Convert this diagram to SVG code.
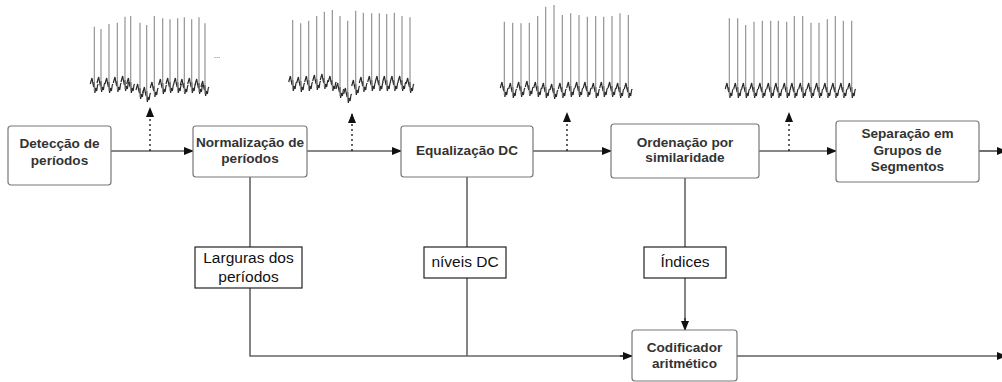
<svg xmlns="http://www.w3.org/2000/svg" xmlns:xlink="http://www.w3.org/1999/xlink" width="1002" height="382" viewBox="0 0 1002 382">
<style>
.box{fill:#fff;stroke:#777;stroke-width:1.2}
.lbl{fill:#fff;stroke:#222;stroke-width:1.2}
.bt{font-family:"Liberation Sans",Arial,sans-serif;font-weight:bold;font-size:13.6px;fill:#333;text-anchor:middle}
.lt{font-family:"Liberation Sans",Arial,sans-serif;font-size:15.5px;fill:#111;text-anchor:middle}
.arr{stroke:#111;stroke-width:1.2;fill:none;marker-end:url(#ah)}
.dot{stroke:#111;stroke-width:1.3;fill:none;stroke-dasharray:2 3;marker-end:url(#ah)}
.gl{stroke:#666;stroke-width:1.6;fill:none}
.beat{stroke:#2a2a2a;stroke-width:1.2;fill:none}
.spk{stroke:#8a8a8a;stroke-width:1.1;fill:none}
</style>
<defs>
<marker id="ah" markerUnits="userSpaceOnUse" markerWidth="10" markerHeight="8" refX="9" refY="4" orient="auto">
<path d="M0,0 L10,4 L0,8 z" fill="#111"/>
</marker>
<path id="b" class="beat" d="M-4,0 L-3.2,-3 L-2.3,-6 L-1.5,-1 L-0.6,3 L0,-2 L0.6,9 L1.4,4 L2.4,7 L3.3,1 L4,0"/>
</defs>

<g id="signal1">
<use href="#b" x="94.3" y="84"/><use href="#b" x="101" y="83"/><use href="#b" x="109" y="84"/><use href="#b" x="117.3" y="83"/><use href="#b" x="125" y="82"/><use href="#b" x="130.7" y="84"/><use href="#b" x="140" y="90"/><use href="#b" x="146.7" y="93"/><use href="#b" x="154.3" y="88"/><use href="#b" x="162.7" y="85"/><use href="#b" x="170" y="84"/><use href="#b" x="177.7" y="84"/><use href="#b" x="184.3" y="85"/><use href="#b" x="191.7" y="84"/><use href="#b" x="199" y="85"/><use href="#b" x="205" y="87"/>
<path class="spk" d="M94.3,91V26.7M101,90V29M109,91V24M117.3,90V22.7M125,89V16.7M130.7,91V16M140,97V22.7M146.7,100V25M154.3,95V16M162.7,92V18.3M170,91V19.3M177.7,91V18.3M184.3,92V17.3M191.7,91V19.3M199,92V17.3M205,94V23.3"/>
<text x="217" y="58" font-family="Liberation Sans, Arial, sans-serif" font-size="8" fill="#333" text-anchor="middle">...</text>
</g>

<g id="signal2">
<use href="#b" x="292.7" y="82"/><use href="#b" x="300.7" y="83"/><use href="#b" x="308.7" y="82"/><use href="#b" x="316.7" y="81"/><use href="#b" x="324.3" y="80"/><use href="#b" x="332.3" y="82"/><use href="#b" x="340" y="89"/><use href="#b" x="347.7" y="94"/><use href="#b" x="355.7" y="86"/><use href="#b" x="363.3" y="83"/><use href="#b" x="371.7" y="82"/><use href="#b" x="379.3" y="82"/><use href="#b" x="386.7" y="82"/><use href="#b" x="394.3" y="82"/><use href="#b" x="402" y="82"/><use href="#b" x="410" y="84"/>
<path class="spk" d="M292.7,89V20M300.7,90V23.3M308.7,89V20.7M316.7,88V16M324.3,87V11.7M332.3,89V10M340,96V16M347.7,101V20.7M355.7,93V10.7M363.3,90V12.7M371.7,89V13.3M379.3,89V13.3M386.7,89V14M394.3,89V12.7M402,89V16M410,91V17.3"/>
</g>

<g id="signal3">
<use href="#b" x="504.3" y="88"/><use href="#b" x="512.7" y="89"/><use href="#b" x="521" y="88"/><use href="#b" x="529.3" y="87"/><use href="#b" x="537.7" y="88"/><use href="#b" x="545.7" y="89"/><use href="#b" x="554" y="90"/><use href="#b" x="562.3" y="89"/><use href="#b" x="570.7" y="88"/><use href="#b" x="579" y="88"/><use href="#b" x="587.3" y="88"/><use href="#b" x="595.7" y="89"/><use href="#b" x="603.7" y="88"/><use href="#b" x="612" y="88"/><use href="#b" x="620" y="89"/><use href="#b" x="628.3" y="89"/>
<path class="spk" d="M504.3,95V21.7M512.7,96V22.7M521,95V23.3M529.3,94V22.7M537.7,95V16M545.7,96V6.7M554,97V5M562.3,96V15M570.7,95V13.3M579,95V15M587.3,95V16.7M595.7,96V16M603.7,95V16.7M612,95V16M620,96V13.3M628.3,96V15"/>
</g>

<g id="signal4">
<use href="#b" x="729.3" y="89"/><use href="#b" x="737.7" y="89"/><use href="#b" x="745.7" y="89"/><use href="#b" x="754" y="89"/><use href="#b" x="762.3" y="89"/><use href="#b" x="770.7" y="89"/><use href="#b" x="778.3" y="89"/><use href="#b" x="786.7" y="89"/><use href="#b" x="794.3" y="89"/><use href="#b" x="802.7" y="89"/><use href="#b" x="811" y="89"/><use href="#b" x="819" y="89"/><use href="#b" x="827.3" y="89"/><use href="#b" x="835.3" y="89"/><use href="#b" x="843.3" y="89"/><use href="#b" x="851.7" y="89"/>
<path class="spk" d="M729.3,96V18.3M737.7,96V18.3M745.7,96V25M754,96V21.7M762.3,96V20.7M770.7,96V20.7M778.3,96V20.7M786.7,96V21.7M794.3,96V16M802.7,96V16M811,96V22.7M819,96V22.7M827.3,96V19.3M835.3,96V16M843.3,96V20.7M851.7,96V20.7"/>
</g>

<g id="connectors">
<path class="arr" d="M111,151H193"/>
<path class="arr" d="M307,151H401"/>
<path class="arr" d="M533,151H611"/>
<path class="arr" d="M759,151H836"/>
<path class="arr" d="M979,151H1006"/>
<path class="dot" d="M150,151V108"/>
<path class="dot" d="M352,151V114"/>
<path class="dot" d="M567,151V113"/>
<path class="dot" d="M789,151V113"/>
<path class="gl" d="M250,177V247M250,288V356H632M467,177V247M467,278V356"/>
<path class="gl" d="M685,178V247"/>
<path class="gl" d="M685,278V322"/>
<path class="arr" d="M685,318V330"/>
<path class="arr" d="M620,356H632"/>
<path class="arr" d="M737,356H1006"/>
</g>

<g id="n1"><rect class="box" x="8" y="126" width="103" height="59" rx="3"/><text class="bt" x="59.5" y="147.5">Detecção de</text><text class="bt" x="59.5" y="164.5">períodos</text></g>
<g id="n2"><rect class="box" x="193" y="126" width="114" height="51" rx="3"/><text class="bt" x="250" y="146.5">Normalização de</text><text class="bt" x="250" y="163">períodos</text></g>
<g id="n3"><rect class="box" x="401" y="126" width="132" height="51" rx="3"/><text class="bt" x="467" y="155">Equalização DC</text></g>
<g id="n4"><rect class="box" x="611" y="124" width="148" height="54" rx="3"/><text class="bt" x="685" y="146.5">Ordenação por</text><text class="bt" x="685" y="162">similaridade</text></g>
<g id="n5"><rect class="box" x="836" y="121" width="143" height="61" rx="3"/><text class="bt" x="907.5" y="138">Separação em</text><text class="bt" x="907.5" y="155">Grupos de</text><text class="bt" x="907.5" y="171">Segmentos</text></g>
<g id="n6"><rect class="box" x="632" y="330" width="105" height="51" rx="3"/><text class="bt" x="684.5" y="351.5">Codificador</text><text class="bt" x="684.5" y="368">aritmético</text></g>
<g id="l1"><rect class="lbl" x="195" y="247" width="107" height="41"/><text class="lt" x="248.5" y="263">Larguras dos</text><text class="lt" x="248.5" y="282">períodos</text></g>
<g id="l2"><rect class="lbl" x="424" y="247" width="82" height="31"/><text class="lt" x="465" y="267">níveis DC</text></g>
<g id="l3"><rect class="lbl" x="644" y="247" width="82" height="31"/><text class="lt" x="685" y="266.5">Índices</text></g>
</svg>
